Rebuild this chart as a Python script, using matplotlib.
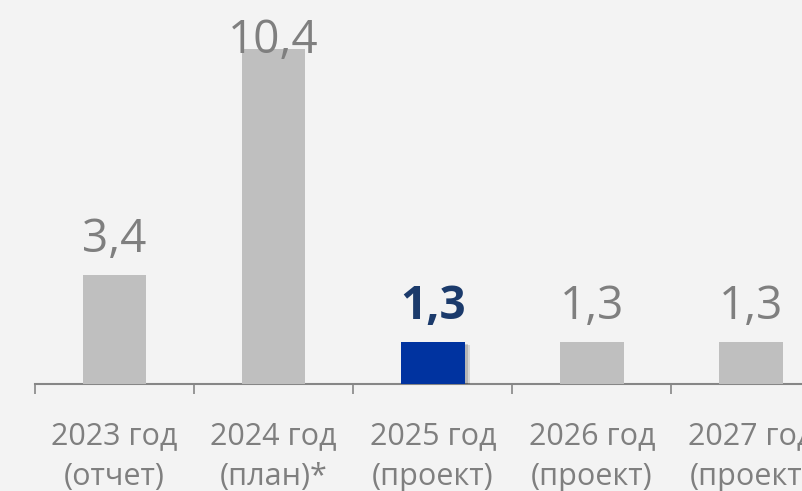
import matplotlib
matplotlib.use("Agg")
import matplotlib.pyplot as plt
import matplotlib.patheffects as pe
import numpy as np

categories = ["2023 год\n(отчет)", "2024 год\n(план)*", "2025 год\n(проект)", "2026 год\n(проект)", "2027 год\n(проект)"]
values = [3.4, 10.4, 1.3, 1.3, 1.3]
value_labels = ["3,4", "10,4", "1,3", "1,3", "1,3"]
highlight = 2

plt.rcParams['font.family'] = ['Open Sans', 'DejaVu Sans']

bg = "#f3f3f3"
fig = plt.figure(figsize=(8.03, 4.91), dpi=100, facecolor=bg)
ax = fig.add_axes([35/803, (491-384)/491, 1 - 35/803, 384/491])
ax.set_facecolor(bg)

x = np.arange(len(categories))
colors = ["#bfbfbf"] * len(values)
colors[highlight] = "#0033a0"
bars = ax.bar(x, values, width=0.4, color=colors, zorder=3)
bars[highlight].set_path_effects([
    pe.SimplePatchShadow(offset=(4, -2), shadow_rgbFace="#000000", alpha=0.12),
    pe.SimplePatchShadow(offset=(2.5, -1.2), shadow_rgbFace="#000000", alpha=0.15),
    pe.Normal()])

for s in ["top", "right", "left"]:
    ax.spines[s].set_visible(False)
ax.spines["bottom"].set_color("#868686")
ax.spines["bottom"].set_linewidth(1.5)
ax.set_yticks([])
ax.set_xticks(x)
ax.set_xticklabels(categories, fontsize=22, color="#7f7f7f", linespacing=1.45)
ax.tick_params(axis="x", which="major", length=0, pad=27)
ax.set_xticks(np.arange(-0.5, 5.0, 1.0), minor=True)
ax.tick_params(axis="x", which="minor", length=7, width=1.2, color="#868686")

ax.set_xlim(-0.5, 4.327)
ax.set_ylim(0, 11.93)

for i, (v, lab) in enumerate(zip(values, value_labels)):
    off = 16.5
    if i == 1:
        off = -2.9
    if i == highlight:
        ax.annotate(lab, (i, v), xytext=(0, off), textcoords="offset points", ha="center", va="baseline",
                    fontsize=33, fontweight="bold", color="#1b3a6b", zorder=4)
    else:
        ax.annotate(lab, (i, v), xytext=(0, off), textcoords="offset points", ha="center", va="baseline",
                    fontsize=33, color="#7f7f7f", zorder=4)

fig.savefig("out.png", dpi=100, facecolor=bg)
